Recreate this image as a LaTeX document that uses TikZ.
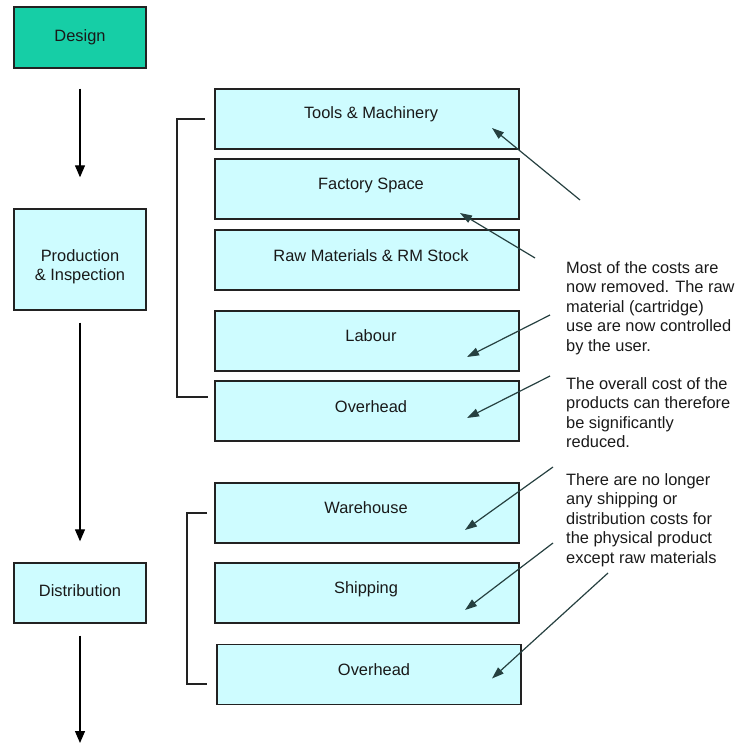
\documentclass[tikz,border=0pt]{standalone}
\usepackage{fontspec}
\setmainfont{Liberation Sans}
\usetikzlibrary{arrows.meta}
\definecolor{teal1}{RGB}{22,206,166}
\definecolor{cyan1}{RGB}{206,252,255}
\definecolor{edge}{RGB}{34,34,34}
\definecolor{pointer}{RGB}{38,64,64}
\definecolor{ink}{RGB}{25,25,25}
\begin{document}
\begin{tikzpicture}[x=1pt,y=-1pt,
  font=\fontsize{16.4}{19.5}\selectfont,
  every node/.style={text=ink},
  stage/.style={draw=edge, line width=1.4pt, fill=cyan1, minimum width=132pt, inner sep=0pt, align=center},
  cost/.style={draw=edge, line width=1.4pt, fill=cyan1, minimum width=304pt, minimum height=60pt, inner sep=0pt},
  lbl/.style={inner sep=0pt, text=ink},
  flow/.style={draw=black, line width=1.3pt, -{Triangle[length=12pt,width=10pt]}},
  point/.style={draw=pointer, line width=1.2pt, -{Triangle[length=12pt,width=8pt]}},
  brace/.style={draw=edge, line width=1.4pt},
  note/.style={inner sep=0pt, anchor=north west, align=left}
]
\useasboundingbox (0,0) rectangle (736,744);

% stage boxes on the left
\node[stage, fill=teal1, minimum height=61pt] (design) at (80,37.5) {};
\node[lbl] (designT) at (80,37) {Design};
\node[stage, minimum height=101pt] (prod) at (80,259.5) {};
\node[lbl, align=center] (prodT) at (80,267) {Production\\ \& Inspection};
\node[stage, minimum height=60pt] (dist) at (80,593) {};
\node[lbl] (distT) at (80,591) {Distribution};

% flow between stages
\draw[flow] ([yshift=-20pt]design.south) -- ([yshift=31pt]prod.north);
\draw[flow] ([yshift=-12pt]prod.south) -- ([yshift=21pt]dist.north);
\coordinate (endflow) at (80,743);
\draw[flow] ([yshift=-12pt]dist.south) -- (endflow);

% production cost boxes
\node[cost] (tools) at (367,119) {};
\node[lbl] (toolsT) at (371,114) {Tools \& Machinery};
\node[cost] (space) at (367,189) {};
\node[lbl] (spaceT) at (371,185) {Factory Space};
\node[cost] (raw) at (367,260) {};
\node[lbl] (rawT) at (371,256) {Raw Materials \& RM Stock};
\node[cost] (labour) at (367,341) {};
\node[lbl] (labourT) at (371,336) {Labour};
\node[cost] (ovh) at (367,411) {};
\node[lbl] (ovhT) at (371,407) {Overhead};

% distribution cost boxes
\node[cost] (ware) at (367,513) {};
\node[lbl] (wareT) at (366,508) {Warehouse};
\node[cost] (ship) at (367,593) {};
\node[lbl] (shipT) at (366,589) {Shipping};
\node[cost] (ovh2) at (369,674.5) {};
\node[lbl] (ovh2T) at (374,670) {Overhead};

% grouping brackets
\draw[brace] (205,119) -- (177,119) -- (177,397) -- (208,397);
\draw[brace] (207,513) -- (187,513) -- (187,684) -- (207,684);

% notes
\node[note] (n1) at (566,261) {Most of the costs are\\now removed. The raw\\material (cartridge)\\use are now controlled\\by the user.};
\node[note] (n2) at (566,377) {The overall cost of the\\products can therefore\\be significantly\\reduced.};
\node[note] (n3) at (566,473) {There are no longer\\any shipping or\\distribution costs for\\the physical product\\except raw materials};

% pointers from the notes into the boxes
\coordinate (p1) at (580,200);
\coordinate (p2) at (535,258);
\coordinate (p3) at (550,315);
\coordinate (p4) at (550,376);
\coordinate (p5) at (553,467);
\coordinate (p6) at (553,543);
\coordinate (p7) at (608,573);
\draw[point] (p1) -- ([shift={(125,9)}]tools.center);
\draw[point] (p2) -- ([shift={(93,24)}]space.center);
\draw[point] (p3) -- ([shift={(100,16)}]labour.center);
\draw[point] (p4) -- ([shift={(100,7)}]ovh.center);
\draw[point] (p5) -- ([shift={(98,17)}]ware.center);
\draw[point] (p6) -- ([shift={(98,17)}]ship.center);
\draw[point] (p7) -- ([shift={(123,4)}]ovh2.center);
\end{tikzpicture}
\end{document}
